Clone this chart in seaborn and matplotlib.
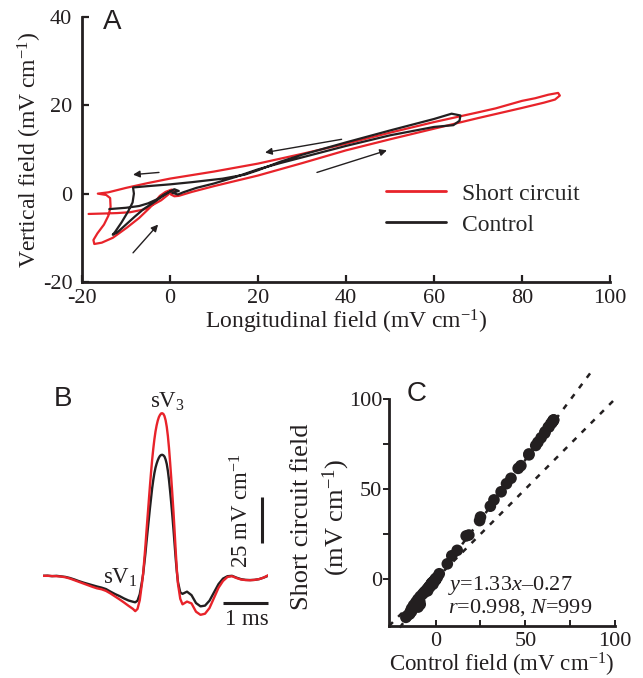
import numpy as np
import pandas as pd
import matplotlib
matplotlib.use("Agg")
import matplotlib.pyplot as plt
import seaborn as sns
from matplotlib.lines import Line2D

# ---------------- Panel A: field vector loops (mV/cm) ----------------
sc_x = [-18.5, -15, -12, -9, -6, -4, -2, -0.5, 0.5, 1.2, 0.2, 1.0,
        2, 5, 10, 15, 20, 30, 40, 50, 60, 70, 80, 85, 87.5, 88.6, 88.2, 86, 83,
        80, 74, 70, 60, 50, 40, 30, 20, 10, 0, -5, -10, -14, -16.4,
        -14.5, -13.6, -13.5, -14, -15, -16.5, -17.4, -17.2, -15.5, -13, -9.8, -7, -4.5, -2.3, -1, 0.3, 1]
sc_y = [-4.6, -4.5, -4.4, -4.2, -3.6, -2.6, -1.5, -0.3, 0.8, 0.5, -0.2, -0.6,
        -0.5, 0.4, 1.7, 2.9, 4.1, 6.9, 9.8, 12.3, 14.7, 17.1, 19.4, 20.6, 21.3, 22.2, 22.8, 22.4, 21.6,
        21.0, 19.3, 18.4, 16.2, 13.8, 11.3, 9.0, 6.8, 5.0, 3.4, 2.4, 1.3, 0.3, 0.0,
        -0.3, -1, -3, -5, -7, -9, -10.5, -11.4, -11.1, -10, -7.7, -5.5, -3.1, -0.5, 0.4, 0.9, 0.8]
ct_x = [-13.8, -10, -7, -5, -3, -1.5, 0, 1, 2, 0.5, 1.8, 3,
        6, 10, 15, 20, 25, 30, 40, 50, 60, 64.4, 65.8, 66, 64,
        60, 50, 40, 30, 25, 20, 17, 12, 5, 0, -5, -8.4,
        -8.2, -8.5, -9.5, -11, -12.5, -13, -12, -10, -8, -6, -4, -2, 0]
ct_y = [-3.5, -3.2, -2.8, -2.2, -1.3, -0.3, 0.5, 1.0, 0.6, 0.2, -0.2, 0.3,
        1.3, 2.3, 3.8, 5.5, 6.9, 8.2, 10.8, 13.2, 15.1, 15.5, 16.5, 17.7, 18.1,
        16.9, 14.3, 11.6, 8.8, 7.2, 5.3, 4.3, 3.4, 2.6, 2.1, 1.7, 1.4,
        0, -2, -4, -6.5, -8.7, -9.3, -8.8, -7, -5.2, -3.5, -2.2, -0.8, 0.5]
# direction arrows (x0, y0, x1, y1) in data units
arrows_A = [(-8.4, -13.4, -2.7, -7.0), (-2.5, 4.8, -8.4, 4.3),
            (39, 12.3, 21.6, 9.3), (33.4, 4.8, 49.3, 9.8)]

# ---------------- Panel B: longitudinal field vs time ----------------
t_ms = [0.0, 0.1, 0.2, 0.3, 0.4, 0.5, 0.6, 0.7, 0.8, 0.9, 1.0, 1.1, 1.2, 1.3, 1.4, 1.5, 1.6, 1.7, 1.8, 1.9, 2.0,
        2.05, 2.1, 2.15, 2.2, 2.225, 2.25, 2.275, 2.3, 2.325, 2.35, 2.375, 2.4, 2.425, 2.45, 2.475, 2.5,
        2.525, 2.55, 2.575, 2.6, 2.625, 2.65, 2.675, 2.7, 2.725, 2.75, 2.775, 2.8, 2.825, 2.85, 2.875, 2.9,
        2.925, 2.95, 2.975, 3.0, 3.05, 3.1,
        3.2, 3.3, 3.4, 3.5, 3.6, 3.7, 3.8, 3.9, 4.0, 4.1, 4.2, 4.3, 4.4, 4.5, 4.6, 4.7, 4.8, 4.9, 5.0]
control_v = [0.0, 0.1, -0.2, 0.0, -0.3, -0.6, -1.2, -2.0, -2.9, -3.7, -4.4, -5.1, -5.8, -6.4, -7.2, -8.6, -9.9, -11.0, -12.3, -13.4, -14.1,
             -14.4, -13.5, -10.0, -3.0, 1.0, 6.5, 12.0, 18.5, 24.5, 30.5, 36.5, 42.0, 47.5, 52.0, 55.8, 58.8,
             61.0, 62.8, 64.2, 65.2, 65.7, 65.8, 65.5, 64.8, 63.2, 60.8, 57.0, 52.0, 46.0, 39.5, 32.5, 25.0,
             17.0, 9.0, 2.0, -3.5, -9.0, -9.8,
             -8.6, -10.5, -14.8, -16.6, -16.2, -13.5, -9.0, -4.5, -1.5, -0.2, 0.0, -1.0, -1.8, -2.2, -2.3, -2.2, -1.8, -1.0, 0.0]
short_v = [0.0, 0.0, -0.1, -0.2, -0.4, -0.8, -1.5, -2.4, -3.3, -4.2, -5.1, -6.0, -6.8, -7.3, -8.2, -9.6, -11.2, -12.8, -14.5, -16.3, -18.0,
           -19.2, -18.0, -13.2, -4.0, 1.2, 8.5, 16.0, 24.5, 32.5, 40.5, 48.5, 56.0, 63.0, 69.0, 74.2, 78.5,
           81.8, 84.4, 86.3, 87.5, 88.3, 88.4, 88.0, 86.8, 84.5, 81.0, 76.0, 69.5, 61.5, 53.0, 44.0, 34.5,
           24.0, 13.0, 3.0, -4.5, -12.5, -15.5,
           -14.0, -15.0, -19.5, -21.2, -20.6, -17.5, -12.0, -6.5, -2.8, -0.6, -0.2, -1.2, -2.0, -2.3, -2.4, -2.2, -1.8, -1.0, 0.3]
bar_ms = [4.0, 5.0]          # 1 ms scale bar
bar_ms_level = -14.7
bar_field = [18, 43]          # 25 mV/cm scale bar
bar_field_t = 4.87

# ---------------- Panel C: regression ----------------
fit_slope, fit_intercept = 1.33, -0.27
fit_x = [-20, 88]
ident_x = [-26, 100]

RED = '#e8232a'
BLACK = '#231f20'

sns.set_style('ticks')
plt.rcParams['font.family'] = ['Liberation Serif', 'DejaVu Serif']
plt.rcParams['mathtext.fontset'] = 'custom'
plt.rcParams['mathtext.rm'] = 'Liberation Serif'
plt.rcParams['mathtext.it'] = 'Liberation Serif:italic'
plt.rcParams['mathtext.bf'] = 'Liberation Serif:bold'
plt.rcParams['axes.unicode_minus'] = False

fig = plt.figure(figsize=(6.43, 6.78), dpi=100)

# ---- A ----
axA = fig.add_axes([0.1275, 0.5841, 0.8212, 0.3909])
dfA = pd.concat([
    pd.DataFrame({'x': sc_x, 'y': sc_y, 'trace': 'Short circuit'}),
    pd.DataFrame({'x': ct_x, 'y': ct_y, 'trace': 'Control'})], ignore_index=True)
sns.lineplot(data=dfA, x='x', y='y', hue='trace', hue_order=['Short circuit', 'Control'],
             palette={'Short circuit': RED, 'Control': BLACK}, sort=False, estimator=None,
             linewidth=1.6, legend=False, ax=axA)
for x0, y0, x1, y1 in arrows_A:
    axA.annotate('', xy=(x1, y1), xytext=(x0, y0),
                 arrowprops=dict(arrowstyle='-|>', color=BLACK, lw=1.0, mutation_scale=10,
                                 shrinkA=0, shrinkB=0))
axA.set_xlim(-20, 100)
axA.set_ylim(-20, 40)
axA.set_xticks(range(-20, 101, 20))
axA.set_yticks([-20, 0, 20, 40])
for s in ['top', 'right']:
    axA.spines[s].set_visible(False)
for s in ['left', 'bottom']:
    axA.spines[s].set_linewidth(2.0)
    axA.spines[s].set_color(BLACK)
axA.tick_params(direction='in', length=5, width=1.6, labelsize=16, color=BLACK, labelcolor=BLACK)
axA.tick_params(axis='x', pad=5)
axA.tick_params(axis='y', pad=7)
axA.set_xlabel('Longitudinal field (mV cm$^{-1}$)', fontsize=17, labelpad=0, color=BLACK)
axA.set_ylabel('Vertical field (mV cm$^{-1}$)', fontsize=17, labelpad=-1, color=BLACK)
handles = [Line2D([], [], color=RED, lw=2), Line2D([], [], color=BLACK, lw=2)]
axA.legend(handles, ['Short circuit', 'Control'], loc='center left', bbox_to_anchor=(0.576, 0.274),
           frameon=False, fontsize=17, handlelength=2.55, handletextpad=0.65, borderpad=0,
           labelspacing=0.4, borderaxespad=0)

# ---- B ----
axB = fig.add_axes([0.0669, 0.0693, 0.3499, 0.3527])
n = len(t_ms)
dfB = pd.DataFrame({'t': t_ms + t_ms, 'v': control_v + short_v,
                    'trace': ['Control'] * n + ['Short circuit'] * n})
sns.lineplot(data=dfB, x='t', y='v', hue='trace', hue_order=['Control', 'Short circuit'],
             palette={'Short circuit': RED, 'Control': BLACK}, sort=False, estimator=None,
             linewidth=1.7, legend=False, ax=axB)
axB.set_xlim(0, 5)
axB.set_ylim(-30, 100)
axB.axis('off')
axB.plot([bar_field_t, bar_field_t], bar_field, color=BLACK, lw=2.2, solid_capstyle='butt', clip_on=False)
axB.plot(bar_ms, [bar_ms_level, bar_ms_level], color=BLACK, lw=2.2, solid_capstyle='butt', clip_on=False)
axB.text(4.42, 35.3, '25 mV cm$^{-1}$', rotation=90, ha='center', va='center', fontsize=16.5, color=BLACK)
axB.text(4.53, -24, '1 ms', ha='center', va='center', fontsize=16.5, color=BLACK)
axB.text(1.71, -1, 'sV$_1$', ha='center', va='center', fontsize=16.5, color=BLACK)
axB.text(2.76, 94.6, 'sV$_3$', ha='center', va='center', fontsize=16.5, color=BLACK)

# ---- C ----
axC = fig.add_axes([0.605, 0.0767, 0.3515, 0.3348])
axC.plot(fit_x, [fit_slope * x + fit_intercept for x in fit_x], ls=(0, (2.2, 3.0)), color=BLACK,
         lw=1.8, clip_on=False, zorder=1)
axC.plot(ident_x, ident_x, ls=(0, (2.2, 3.0)), color=BLACK, lw=1.8, clip_on=False, zorder=1)
sns.scatterplot(x=control_v, y=short_v, s=70, color=BLACK, edgecolor='none', ax=axC, zorder=3)
axC.set_xlim(-26, 100)
axC.set_ylim(-26, 100)
axC.set_xticks([0, 50, 100])
axC.set_yticks([0, 50, 100])
axC.set_xticks([25, 75], minor=True)
axC.set_yticks([25, 75], minor=True)
for s in ['top', 'right']:
    axC.spines[s].set_visible(False)
for s in ['left', 'bottom']:
    axC.spines[s].set_linewidth(2.0)
    axC.spines[s].set_color(BLACK)
axC.tick_params(axis='x', which='both', direction='in', length=4, width=1.4, labelsize=16, pad=4,
                color=BLACK, labelcolor=BLACK)
axC.tick_params(axis='y', which='both', direction='out', length=4, width=1.4, labelsize=16, pad=1,
                color=BLACK, labelcolor=BLACK)
axC.set_xlabel('Control field (mV cm$^{-1}$)', fontsize=16.5, labelpad=0, color=BLACK)
axC.set_ylabel('Short circuit field\n(mV cm$^{-1}$)', fontsize=19, linespacing=1.35, color=BLACK)
axC.yaxis.set_label_coords(-0.162, 0.48)
axC.text(6.7, -3.3, '$y$=1.33$x$\u20130.27', ha='left', va='center', fontsize=16, color=BLACK)
axC.text(6.7, -15.6, '$r$=0.998, $N$=999', ha='left', va='center', fontsize=16, color=BLACK)

# panel letters
for lab, (fx, fy) in {'A': (0.174, 0.9676), 'B': (0.098, 0.4115), 'C': (0.6485, 0.4189)}.items():
    fig.text(fx, fy, lab, fontsize=20, family=['Liberation Sans', 'DejaVu Sans'],
             ha='center', va='center', color=BLACK)

fig.savefig('out.png', dpi=100)
